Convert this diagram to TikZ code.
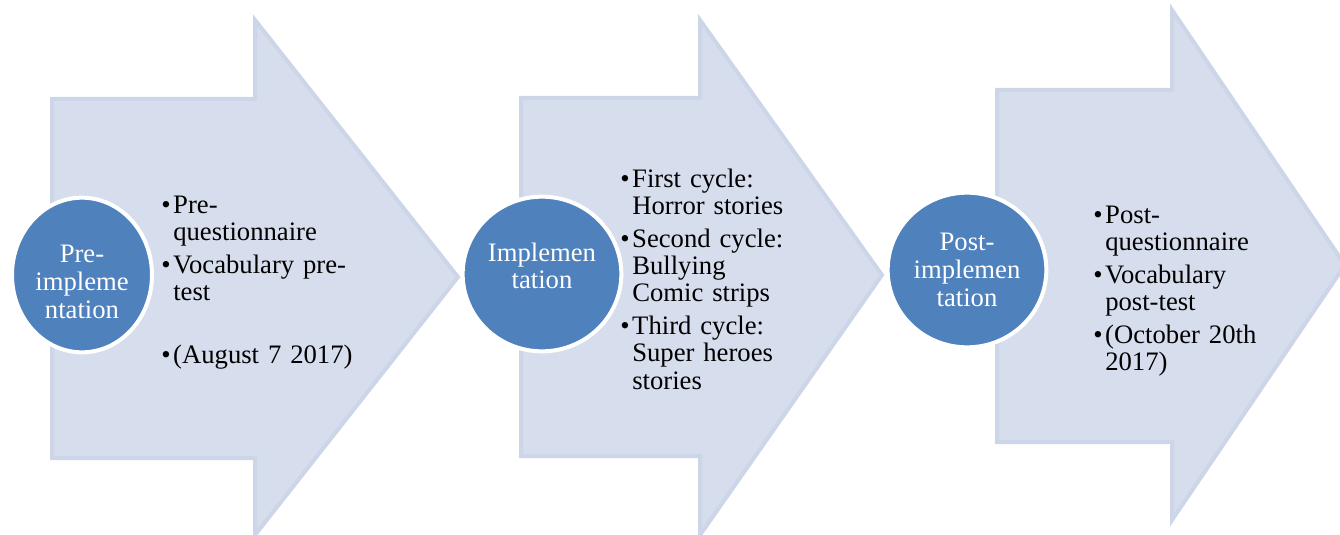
\documentclass[tikz,border=0pt]{standalone}
\usepackage{fontspec}
\setmainfont{Liberation Serif}
\usetikzlibrary{shapes.geometric}
\definecolor{stagefill}{HTML}{D6DDEC}
\definecolor{stageedge}{HTML}{CDD5E8}
\definecolor{phaseblue}{HTML}{4F81BD}
\newcommand{\bitem}[1]{\par\noindent\llap{\textbullet\hspace{2pt}}#1\par\vspace{4pt}}

\begin{document}
\begin{tikzpicture}[x=0.75pt,y=-0.75pt,
		stagearrow/.style={fill=stagefill,draw=stageedge,line width=3pt,line join=miter},
		phase/.style={ellipse,fill=phaseblue,draw=white,line width=3pt,inner sep=0pt},
		phasetext/.style={text=white,align=center,inner sep=0pt,font=\fontsize{20}{20.8}\selectfont},
		bullets/.style={anchor=base west,inner sep=0pt,text width=145pt,align=left,font=\fontsize{20}{20.5}\selectfont}]
		\useasboundingbox (0,0) rectangle (1340,535);
		
		% big arrows
		\draw[stagearrow] (52,99) -- (255,99) -- (255,20) -- (458,277) -- (255,535) -- (255,458) -- (52,458) -- cycle;
		\draw[stagearrow] (521,98) -- (700,98) -- (700,20) -- (882,275) -- (700,535) -- (700,456) -- (521,456) -- cycle;
		\draw[stagearrow] (997,90) -- (1172,90) -- (1172,10) -- (1345,265) -- (1172,520) -- (1172,442) -- (997,442) -- cycle;
		
		% circles
		\node[phase,minimum width=105pt,minimum height=116pt] (pre) at (82,275) {};
		\node[phase,minimum width=119pt,minimum height=116pt] (impl) at (542,274) {};
		\node[phase,minimum width=119pt,minimum height=116pt] (post) at (967,270) {};
		\node[phasetext] (pretext) at ([yshift=-5pt]pre) {Pre-\\impleme\\ntation};
		\node[phasetext] (impltext) at ([yshift=6pt]impl) {Implemen\\tation};
		\node[phasetext] (posttext) at (post) {Post-\\implemen\\tation};
		
		% lists
		\node[bullets] (list1) at (173,186) {\bitem{Pre-\\questionnaire}\bitem{Vocabulary pre-\\test}\vspace{23pt}\bitem{(August 7 2017)}};
		\node[bullets] (list2) at (632,160) {\bitem{First cycle:\\Horror stories}\bitem{Second cycle:\\Bullying\\Comic strips}\bitem{Third cycle:\\Super heroes\\stories}};
		\node[bullets] (list3) at (1105,196) {\bitem{Post-\\questionnaire}\bitem{Vocabulary\\post-test}\bitem{(October 20th\\2017)}};
\end{tikzpicture}
\end{document}
